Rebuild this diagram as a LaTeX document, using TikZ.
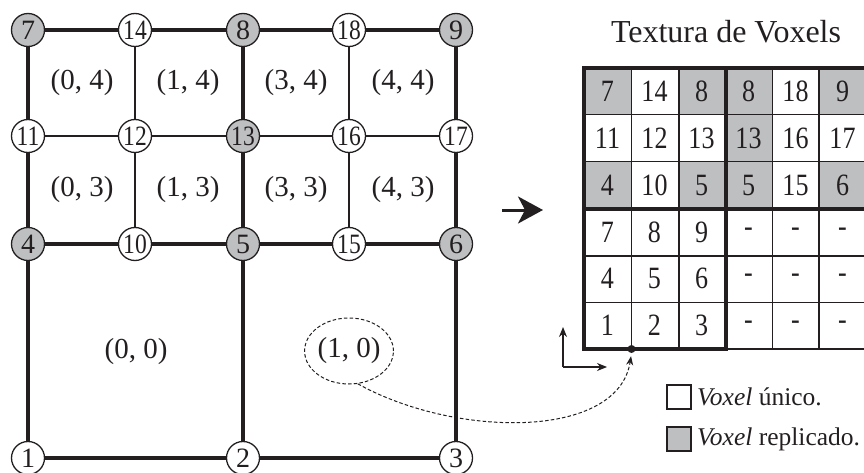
\documentclass[tikz,border=0pt]{standalone}
\usepackage{fontspec}
\usepackage{graphicx}
\setmainfont{Liberation Serif}
\usetikzlibrary{arrows.meta,shapes.geometric}
\definecolor{ink}{RGB}{35,31,32}
\definecolor{fillg}{RGB}{190,191,193}
\newcommand{\cnd}[1]{\scalebox{0.84}[1]{#1}}
\begin{document}
\begin{tikzpicture}[x=1pt,y=-1pt,
  vtx/.style={circle, draw=ink, line width=1.3pt, fill=white, minimum size=33pt, inner sep=0pt, text=ink, font=\fontsize{28}{28}\selectfont},
  rep/.style={vtx, fill=fillg},
  major/.style={draw=ink, line width=3.2pt},
  minor/.style={draw=ink, line width=2pt},
  tthin/.style={draw=ink, line width=1.4pt},
  tthick/.style={draw=ink, line width=3.2pt, line cap=rect},
  celltxt/.style={inner sep=0pt, text=ink, font=\fontsize{31}{31}\selectfont},
  lbl/.style={inner sep=0pt, text=ink, font=\fontsize{29}{29}\selectfont},
  legbox/.style={draw=ink, line width=1.3pt, minimum size=24pt, inner sep=0pt},
  legtxt/.style={anchor=west, inner sep=0pt, text=ink, font=\fontsize{25.5}{25.5}\selectfont},
  dashconn/.style={draw=ink, line width=1pt, dash pattern=on 3.5pt off 2.2pt}
]
\useasboundingbox (0,0) rectangle (864,473);

% ---------- grid vertices ----------
\node[rep] (v7)  at (28,30)  {7};
\node[vtx] (v14) at (135,30) {\cnd{14}};
\node[rep] (v8)  at (243,30) {8};
\node[vtx] (v18) at (349,30) {\cnd{18}};
\node[rep] (v9)  at (456,30) {9};

\node[vtx] (v11) at (28,136)  {\cnd{11}};
\node[vtx] (v12) at (135,136) {\cnd{12}};
\node[rep] (v13) at (243,136) {\cnd{13}};
\node[vtx] (v16) at (349,136) {\cnd{16}};
\node[vtx] (v17) at (456,136) {\cnd{17}};

\node[rep] (v4)  at (28,244)  {4};
\node[vtx] (v10) at (135,244) {\cnd{10}};
\node[rep] (v5)  at (243,244) {5};
\node[vtx] (v15) at (349,244) {\cnd{15}};
\node[rep] (v6)  at (456,244) {6};

\node[vtx] (v1) at (28,458)  {1};
\node[vtx] (v2) at (243,458) {2};
\node[vtx] (v3) at (456,458) {3};

% ---------- grid edges ----------
\draw[major] (v7) -- (v14); \draw[major] (v14) -- (v8); \draw[major] (v8) -- (v18); \draw[major] (v18) -- (v9);
\draw[major] (v4) -- (v10); \draw[major] (v10) -- (v5); \draw[major] (v5) -- (v15); \draw[major] (v15) -- (v6);
\draw[major] (v1) -- (v2); \draw[major] (v2) -- (v3);
\draw[minor] (v11) -- (v12); \draw[minor] (v12) -- (v13); \draw[minor] (v13) -- (v16); \draw[minor] (v16) -- (v17);

\draw[major] (v7) -- (v11); \draw[major] (v11) -- (v4); \draw[major] (v4) -- (v1);
\draw[major] (v8) -- (v13); \draw[major] (v13) -- (v5); \draw[major] (v5) -- (v2);
\draw[major] (v9) -- (v17); \draw[major] (v17) -- (v6); \draw[major] (v6) -- (v3);
\draw[minor] (v14) -- (v12); \draw[minor] (v12) -- (v10);
\draw[minor] (v18) -- (v16); \draw[minor] (v16) -- (v15);

% ---------- cell labels ----------
\node[lbl] (l04) at (82,83)  {(0, 4)};
\node[lbl] (l14) at (188,83) {(1, 4)};
\node[lbl] (l34) at (296,83) {(3, 4)};
\node[lbl] (l44) at (403,83) {(4, 4)};
\node[lbl] (l03) at (82,190)  {(0, 3)};
\node[lbl] (l13) at (188,190) {(1, 3)};
\node[lbl] (l33) at (296,190) {(3, 3)};
\node[lbl] (l43) at (403,190) {(4, 3)};
\node[lbl] (l00) at (136,352) {(0, 0)};
\node[lbl, ellipse, dashconn, minimum width=80pt, minimum height=66pt] (l10) at (349,351) {(1, 0)};

% ---------- title ----------
\node[inner sep=0pt, text=ink, font=\fontsize{32}{32}\selectfont] (title) at (726,32) {Textura de Voxels};

% ---------- texture table ----------
\foreach \r/\c in {1/1,1/3,1/4,1/6,2/4,3/1,3/3,3/4,3/6}{
  \fill[fillg] ({584+47*(\c-1)},{68+46.83*(\r-1)}) rectangle ({584+47*\c},{68+46.83*\r});
}
\foreach \x in {631.5,679,772.5,819}{
  \draw[tthin] (\x,68) -- (\x,349);
}
\foreach \y in {114.8,161.7,255.8,302.2}{
  \draw[tthin] (584,\y) -- (868,\y);
}
\draw[tthin] (726,349) -- (868,349);
\draw[tthick] (868,68) -- (584,68) -- (584,349) -- (726,349);
\draw[tthick] (726,68) -- (726,349);
\draw[tthick] (584,209) -- (868,209);

\foreach \row [count=\ri] in {{7,14,8,8,18,9},{11,12,13,13,16,17},{4,10,5,5,15,6},{7,8,9,-,-,-},{4,5,6,-,-,-},{1,2,3,-,-,-}}{
  \foreach \v [count=\ci] in \row {
    \node[celltxt] (c\ri\ci) at ({584+47*(\ci-0.5)},{68+46.83*(\ri-0.5)}) {\cnd{\v}};
  }
}

% ---------- origin dot and axes ----------
\node[circle, fill=ink, inner sep=0pt, minimum size=8pt] (dot) at (631.5,349) {};
\coordinate (ax0) at (563,367);
\coordinate (axy) at (563,327);
\coordinate (axx) at (607,367);
\draw[draw=ink, line width=1.3pt, -{Stealth[length=10pt,width=8pt]}] (ax0) -- (axy);
\draw[draw=ink, line width=1.3pt, -{Stealth[length=10pt,width=8pt]}] (ax0) -- (axx);

\draw[dashconn, -{Stealth[length=9pt,width=7pt,fill=ink]}, shorten >=3pt] (l10.-75) .. controls (455,438) and (618,440) .. (dot.south);

% ---------- big arrow ----------
\coordinate (ba0) at (502,210);
\coordinate (ba1) at (543,210);
\draw[draw=ink, fill=ink, line width=3pt, -{Stealth[length=25pt,width=27pt,inset=7pt]}] (ba0) -- (ba1);

% ---------- legend ----------
\node[legbox, fill=white] (lg1) at (679,397) {};
\node[legbox, fill=fillg] (lg2) at (679,439) {};
\node[legtxt] (lt1) at (697,397) {\textit{Voxel} único.};
\node[legtxt] (lt2) at (697,439) {\textit{Voxel} replicado.};
\end{tikzpicture}
\end{document}
